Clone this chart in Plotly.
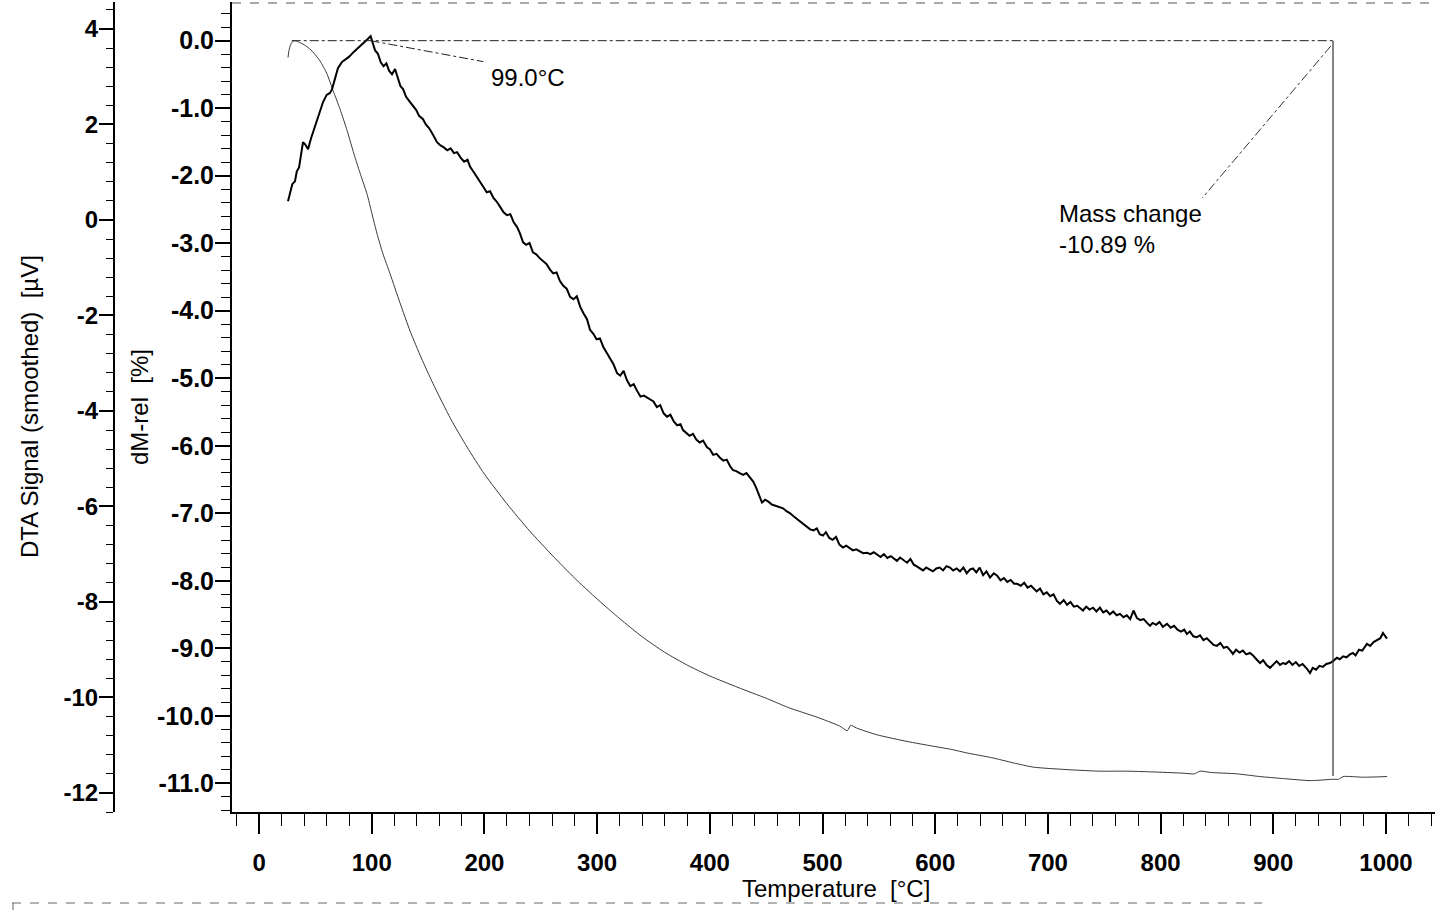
import plotly.graph_objects as go

# ---------------- data ----------------
temp_dta = [25.7, 27.5, 29.5, 31.9, 33.5, 35.5, 37.0, 39.0, 41.0, 43.5, 46.0, 49.7, 53.0, 56.8, 60.0, 63.0,
            64.8, 67.0, 70.0, 73.6, 77.0, 80.0, 84.0, 87.0, 90.0, 93.0, 96.0, 99.0, 101.0, 103.0, 105.5,
            108.0, 110.5, 113.0, 115.5, 118.0, 120.7, 123.0, 125.5, 127.8, 130.5, 133.0, 136.6, 139.5,
            142.0, 145.5, 148.0, 151.0, 154.0, 157.9, 161.0, 164.0, 167.0, 170.0, 173.0, 175.7, 179.0,
            182.0, 185.0, 187.2, 190.0, 193.5, 196.5, 198.8, 202.0, 205.0, 208.0, 211.0, 213.8, 217.0,
            220.0, 223.0, 226.0, 229.0, 231.5, 234.3, 237.0, 240.0, 243.0, 246.0, 249.0, 252.0, 255.0,
            258.2, 261.0, 264.0, 267.0, 270.0, 273.0, 276.0, 279.0, 282.0, 285.0, 288.0, 291.0, 293.7,
            296.5, 299.5, 302.5, 305.5, 308.5, 311.5, 314.5, 317.7, 320.5, 323.5, 326.5, 329.5, 332.5,
            335.5, 338.5, 341.5, 344.5, 346.9, 350.0, 353.0, 356.0, 359.0, 362.0, 365.0, 368.0, 371.0,
            374.0, 376.2, 379.0, 382.0, 385.0, 388.0, 391.0, 394.0, 397.5, 400.0, 403.0, 406.0, 409.0,
            412.0, 415.0, 418.0, 420.6, 423.5, 426.5, 429.5, 432.5, 435.7, 438.5, 441.0, 443.5, 446.3,
            449.0, 452.0, 455.0, 458.0, 461.0, 465.0, 468.0, 471.0, 474.0, 477.0, 480.0, 483.0, 486.2,
            489.0, 492.0, 495.0, 497.5, 500.4, 503.0, 506.0, 509.0, 512.0, 515.0, 518.2, 521.0, 524.0,
            527.0, 530.0, 533.0, 536.0, 539.5, 542.5, 545.5, 548.5, 551.5, 554.5, 557.5, 560.5, 563.5,
            566.0, 568.8, 572.0, 575.0, 578.0, 581.0, 584.0, 587.0, 589.2, 592.0, 595.0, 598.0, 601.0,
            604.0, 607.0, 610.0, 613.1, 616.0, 619.0, 622.0, 625.0, 628.0, 631.0, 633.5, 636.5, 639.5,
            642.5, 645.5, 648.6, 652.0, 655.0, 658.0, 661.0, 664.0, 667.0, 670.0, 672.6, 676.0, 679.0,
            682.0, 685.0, 686.8, 690.0, 693.0, 696.0, 699.0, 702.0, 705.0, 708.0, 710.7, 714.0, 717.0,
            720.0, 723.0, 726.0, 729.0, 731.1, 734.0, 737.0, 740.0, 743.0, 746.2, 749.0, 752.0, 755.0,
            758.0, 761.0, 764.0, 767.0, 770.0, 773.0, 776.0, 779.0, 782.0, 785.0, 788.0, 790.6, 793.0,
            796.0, 799.0, 802.0, 805.7, 809.0, 812.0, 815.0, 818.0, 821.0, 823.4, 826.0, 829.0, 832.0,
            835.0, 838.0, 841.0, 844.0, 847.0, 850.0, 853.0, 856.0, 859.0, 862.0, 864.2, 867.0, 870.0,
            873.0, 876.0, 879.3, 882.0, 885.0, 888.2, 891.0, 894.0, 897.1, 900.0, 903.0, 906.0, 908.6,
            911.0, 914.0, 917.0, 920.0, 923.0, 926.0, 929.9, 932.6, 935.0, 938.0, 941.0, 944.0, 947.0,
            950.3, 953.0, 956.5, 959.0, 962.0, 965.0, 968.0, 970.7, 973.0, 976.0, 979.0, 983.1, 986.0,
            989.0, 992.0, 995.0, 997.3, 999.0, 1000.9]

dta_signal = [0.39, 0.55, 0.75, 0.81, 1.02, 1.10, 1.38, 1.63, 1.58, 1.48, 1.70, 1.96, 2.22, 2.47, 2.62, 2.66,
              2.74, 2.95, 3.18, 3.31, 3.36, 3.42, 3.52, 3.58, 3.66, 3.70, 3.78, 3.85, 3.72, 3.55, 3.48,
              3.30, 3.22, 3.28, 3.12, 3.05, 3.16, 3.00, 2.80, 2.74, 2.58, 2.50, 2.38, 2.30,
              2.18, 2.11, 2.00, 1.92, 1.80, 1.63, 1.56, 1.52, 1.46, 1.50, 1.40, 1.42, 1.30,
              1.22, 1.26, 1.12, 1.02, 0.90, 0.80, 0.70, 0.58, 0.60, 0.46, 0.38, 0.28, 0.16,
              0.10, 0.12, -0.05, -0.15, -0.28, -0.47, -0.52, -0.48, -0.68, -0.72, -0.80, -0.86, -0.92,
              -1.04, -1.12, -1.10, -1.28, -1.38, -1.44, -1.61, -1.66, -1.60, -1.82, -1.96, -2.08, -2.30,
              -2.38, -2.50, -2.48, -2.66, -2.78, -2.92, -3.02, -3.21, -3.26, -3.16, -3.36, -3.48, -3.44,
              -3.58, -3.70, -3.68, -3.72, -3.77, -3.80, -3.92, -3.88, -4.05, -4.12, -4.08, -4.22, -4.30,
              -4.28, -4.40, -4.46, -4.52, -4.48, -4.60, -4.66, -4.62, -4.76, -4.80, -4.92, -4.90, -4.98,
              -5.04, -5.02, -5.16, -5.24, -5.26, -5.30, -5.34, -5.30, -5.41, -5.48, -5.60, -5.76, -5.92,
              -5.86, -5.90, -5.96, -5.98, -6.00, -6.04, -6.10, -6.14, -6.20, -6.26, -6.30, -6.36, -6.44,
              -6.48, -6.50, -6.46, -6.58, -6.61, -6.54, -6.66, -6.70, -6.64, -6.80, -6.86, -6.82, -6.88,
              -6.92, -6.90, -6.94, -6.98, -6.97, -7.00, -6.96, -7.02, -7.06, -7.00, -7.08, -7.04, -7.10,
              -7.14, -7.07, -7.12, -7.18, -7.10, -7.22, -7.26, -7.30, -7.34, -7.28, -7.32, -7.36, -7.30,
              -7.28, -7.34, -7.25, -7.28, -7.34, -7.30, -7.36, -7.28, -7.40, -7.32, -7.30, -7.38, -7.28,
              -7.44, -7.36, -7.49, -7.40, -7.45, -7.55, -7.50, -7.58, -7.54, -7.62, -7.62, -7.66, -7.60,
              -7.70, -7.66, -7.70, -7.78, -7.72, -7.84, -7.80, -7.88, -7.84, -7.98, -8.04, -7.96, -8.06,
              -8.00, -8.10, -8.08, -8.14, -8.18, -8.10, -8.16, -8.12, -8.20, -8.12, -8.22, -8.18, -8.26,
              -8.20, -8.28, -8.25, -8.32, -8.28, -8.36, -8.18, -8.34, -8.38, -8.36, -8.44, -8.50, -8.44,
              -8.48, -8.42, -8.52, -8.46, -8.54, -8.50, -8.58, -8.62, -8.58, -8.67, -8.62, -8.72, -8.74,
              -8.70, -8.80, -8.76, -8.84, -8.90, -8.92, -8.86, -8.96, -8.94, -9.02, -9.09, -9.00, -9.06,
              -9.02, -9.10, -9.07, -9.12, -9.20, -9.28, -9.22, -9.32, -9.38, -9.30, -9.24, -9.32, -9.28,
              -9.30, -9.24, -9.32, -9.26, -9.34, -9.30, -9.40, -9.49, -9.38, -9.42, -9.34, -9.36, -9.30,
              -9.28, -9.24, -9.17, -9.20, -9.14, -9.16, -9.10, -9.07, -9.12, -9.00, -9.02, -8.88, -8.92,
              -8.84, -8.80, -8.76, -8.65, -8.72, -8.77]

temp_tg = [25.7, 26.5, 28.0, 30.0, 31.9, 35.0, 40.0, 45.0, 50.0, 54.1, 60.0, 65.7, 72.0, 78.1, 85.0, 90.0,
           95.8, 100.0, 104.7, 110.0, 116.2, 125.0, 134.0, 144.0, 154.4, 170.0, 184.6, 200.0, 220.0,
           240.0, 260.0, 280.0, 300.0, 320.0, 340.0, 360.0, 380.0, 400.0, 425.0, 450.0, 470.0, 495.0,
           515.0, 522.0, 525.0, 530.0, 548.0, 575.0, 598.0, 615.0, 628.0, 650.0, 670.0, 687.0, 720.0,
           746.0, 770.0, 791.0, 820.0, 830.0, 835.0, 845.0, 868.0, 888.0, 909.0, 933.0, 953.0, 958.0,
           962.0, 980.0, 1001.0]

dm_rel = [-0.25, -0.15, -0.06, -0.01, 0.00, -0.02, -0.06, -0.12, -0.21, -0.30, -0.48, -0.74, -1.02, -1.33,
          -1.72, -1.98, -2.27, -2.55, -2.86, -3.16, -3.45, -3.88, -4.30, -4.70, -5.08, -5.60, -6.02,
          -6.42, -6.86, -7.26, -7.62, -7.96, -8.27, -8.56, -8.83, -9.06, -9.25, -9.41, -9.58, -9.74,
          -9.88, -10.02, -10.15, -10.22, -10.14, -10.18, -10.28, -10.38, -10.45, -10.50, -10.55,
          -10.62, -10.70, -10.76, -10.80, -10.82, -10.82, -10.83, -10.85, -10.86, -10.82, -10.84,
          -10.86, -10.90, -10.93, -10.96, -10.94, -10.94, -10.90, -10.91, -10.90]

temp_ticks = [0, 100, 200, 300, 400, 500, 600, 700, 800, 900, 1000]
dm_ticks = [0.0, -1.0, -2.0, -3.0, -4.0, -5.0, -6.0, -7.0, -8.0, -9.0, -10.0, -11.0]
dta_ticks = [4, 2, 0, -2, -4, -6, -8, -10, -12]

peak_temp = 99.0
peak_label = "99.0°C"
mass_change = -10.89
step_start_temp = 29.0
step_end_temp = 953.0

# ---------------- figure ----------------
W, H = 1435, 910
FONT = "Liberation Sans, Arial, sans-serif"
tick_font = dict(family=FONT, size=24, color="black", weight="bold")
ytick_font = dict(family=FONT, size=25, color="black", weight="bold")

fig = go.Figure()
fig.add_trace(go.Scatter(x=temp_tg, y=dm_rel, mode="lines", yaxis="y",
                         line=dict(color="#3a3a3a", width=1, shape="spline", smoothing=0.6),
                         showlegend=False))
fig.add_trace(go.Scatter(x=temp_dta, y=dta_signal, mode="lines", yaxis="y2",
                         line=dict(color="black", width=2), showlegend=False))

ydom = [98 / H, 908 / H]

fig.update_layout(
    width=W, height=H,
    margin=dict(l=0, r=0, t=0, b=0),
    paper_bgcolor="white", plot_bgcolor="white",
    showlegend=False,
    xaxis=dict(domain=[232 / W, 1.0], range=[-24.0, 1043.5], anchor="y",
               tickvals=temp_ticks, ticktext=[str(t) for t in temp_ticks],
               ticks="outside", ticklen=20, tickwidth=1.5, tickcolor="black",
               minor=dict(dtick=20, tick0=0, ticks="outside", ticklen=12, tickwidth=1.2, tickcolor="black"),
               showline=True, linewidth=2, linecolor="black",
               showgrid=False, zeroline=False, tickfont=tick_font, ticklabelstandoff=8),
    yaxis=dict(domain=ydom, range=[-11.425, 0.573], anchor="x", side="left",
               tickvals=dm_ticks, ticktext=[f"{v:.1f}" for v in dm_ticks],
               ticks="outside", ticklen=15, tickwidth=1.5, tickcolor="black",
               minor=dict(dtick=0.2, tick0=0, ticks="outside", ticklen=9, tickwidth=1.2, tickcolor="black"),
               showline=True, linewidth=2, linecolor="black",
               showgrid=False, zeroline=False, tickfont=ytick_font, ticklabelstandoff=-4),
    yaxis2=dict(overlaying="y", anchor="free", position=114 / W, side="left",
                range=[-12.40, 4.565],
                tickvals=dta_ticks, ticktext=[str(v) for v in dta_ticks],
                ticks="outside", ticklen=14, tickwidth=1.5, tickcolor="black",
                minor=dict(dtick=0.4, tick0=0, ticks="outside", ticklen=7, tickwidth=1.2, tickcolor="black"),
                showline=True, linewidth=2, linecolor="black",
                showgrid=False, zeroline=False, tickfont=tick_font, ticklabelstandoff=-4),
)

# reference lines for the peak and the mass step
line_style = dict(color="#222222", width=1, dash="dashdot")
fig.add_shape(type="line", xref="x", yref="y", x0=step_start_temp, x1=step_end_temp, y0=0.0, y1=0.0,
              line=line_style)
fig.add_shape(type="line", xref="x", yref="y", x0=step_end_temp, x1=step_end_temp, y0=0.0, y1=mass_change,
              line=dict(color="#333333", width=1.2))
fig.add_shape(type="line", xref="x", yref="y", x0=peak_temp, x1=199.0, y0=0.0, y1=-0.31, line=line_style)
fig.add_shape(type="line", xref="x", yref="y", x0=951.0, x1=837.0, y0=-0.08, y1=-2.33,
              line=dict(color="#333333", width=1, dash="dashdot"))

# dashed top frame and scan border
fig.add_shape(type="line", xref="paper", yref="paper", x0=232 / W, x1=1.0, y0=(H - 3) / H, y1=(H - 3) / H,
              line=dict(color="#555555", width=1, dash="dash"))
fig.add_shape(type="line", xref="paper", yref="paper", x0=12 / W, x1=1262 / W, y0=7 / H, y1=7 / H,
              line=dict(color="#666666", width=1, dash="dash"))
fig.add_shape(type="line", xref="paper", yref="paper", x0=13 / W, x1=13 / W, y0=7 / H, y1=0,
              line=dict(color="#666666", width=1))

txt_font = dict(family=FONT, size=24, color="black")
fig.add_annotation(xref="x", yref="y", x=204, y=-0.55, text=peak_label, showarrow=False,
                   xanchor="left", yanchor="middle", font=txt_font)
fig.add_annotation(xref="x", yref="y", x=708, y=-2.33,
                   text=f"Mass change<br>{mass_change:.2f} %", showarrow=False,
                   xanchor="left", yanchor="top", align="left", font=txt_font)

# axis titles
title_font = dict(family=FONT, size=24, color="black")
fig.add_annotation(xref="paper", yref="paper", x=30 / W, y=(H - 407) / H, textangle=-90,
                   text="DTA Signal (smoothed)\u00a0 [µV]", showarrow=False,
                   xanchor="center", yanchor="middle", font=title_font)
fig.add_annotation(xref="paper", yref="paper", x=140 / W, y=(H - 407) / H, textangle=-90,
                   text="dM-rel\u00a0 [%]", showarrow=False,
                   xanchor="center", yanchor="middle", font=title_font)
fig.add_annotation(xref="paper", yref="paper", x=836 / W, y=(H - 888) / H,
                   text="Temperature\u00a0 [°C]", showarrow=False,
                   xanchor="center", yanchor="middle", font=title_font)

fig.write_html("out.html", config={"displayModeBar": False},
               post_script="document.body.style.margin='0';document.body.style.padding='0';")
